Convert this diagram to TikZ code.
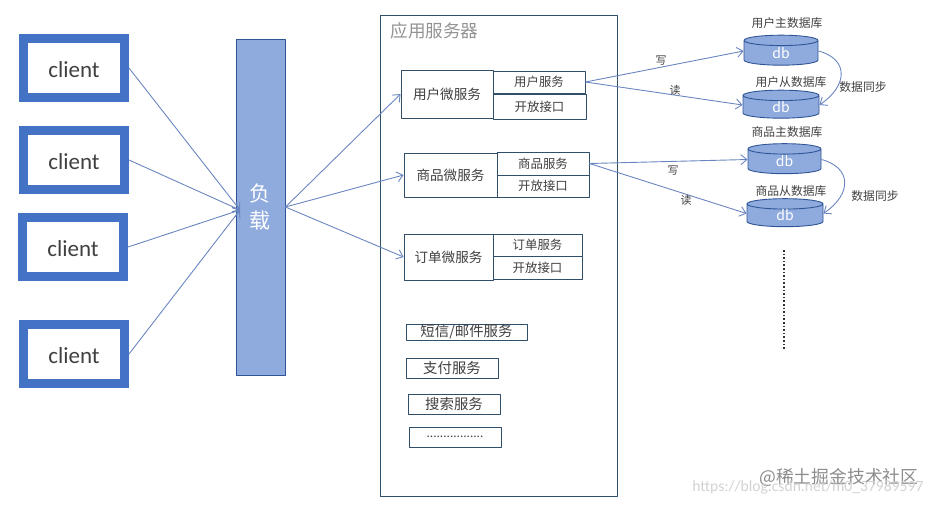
\documentclass[tikz,border=0pt]{standalone}
\usepackage{fontspec}
\setmainfont{Noto Sans CJK SC}
\newfontfamily\latinfont{Carlito}
\usetikzlibrary{arrows.meta,shapes.geometric}
\definecolor{darkblue}{HTML}{2F5597}
\definecolor{clientblue}{HTML}{4472C4}
\definecolor{lightblue}{HTML}{8FAADC}
\definecolor{linkblue}{HTML}{6A86C0}
\definecolor{boxedge}{HTML}{2F4F6B}
\definecolor{textgray}{HTML}{404040}
\tikzset{
	clientbox/.style={draw=clientblue,line width=9pt,line join=miter,fill=white,minimum width=101pt,minimum height=59pt,inner sep=0pt,text height=19pt,text=textgray,font=\latinfont\fontsize{23}{26}\selectfont},
	svcbox/.style={draw=boxedge,line width=0.9pt,fill=white,inner sep=0pt,text=textgray,font=\fontsize{13.6}{16}\selectfont},
	partbox/.style={svcbox,font=\fontsize{12.4}{15}\selectfont},
	extrabox/.style={svcbox,font=\fontsize{14.4}{17}\selectfont},
	dbnode/.style={cylinder,shape border rotate=90,shape aspect=0.6,draw=darkblue,line width=0.9pt,fill=lightblue,inner sep=0pt,minimum width=74pt,minimum height=30pt,text=white,font=\fontsize{14}{16}\selectfont},
	dblabel/.style={text=textgray,font=\fontsize{11.8}{14}\selectfont},
	tag/.style={text=textgray,font=\fontsize{11}{13}\selectfont},
	link/.style={->,draw=linkblue,line width=0.9pt}
}
\begin{document}
\begin{tikzpicture}[x=1pt,y=-1pt,>={Straight Barb[length=6pt,width=10pt]},line join=round]
	\useasboundingbox (0,0) rectangle (936,504);
	\node[clientbox] (client1) at (74,68) {client};
	\node[clientbox] (client2) at (74,160) {client};
	\node[clientbox] (client3) at (73,247) {client};
	\node[clientbox] (client4) at (74,354) {client};
	\node[draw=darkblue,line width=0.9pt,fill=lightblue,minimum width=49pt,minimum height=336pt,inner sep=0pt] (balancer) at (260.5,207) {};
	\node[text=white,align=center,font=\fontsize{21}{27}\selectfont] (balancerlabel) at (260,207) {负\\载};
	\coordinate (balancerin) at (240,210);
	\node[draw=boxedge,line width=0.9pt,minimum width=237pt,minimum height=481pt,inner sep=0pt] (appserver) at (498.5,255.5) {};
	\node[text=gray!85,anchor=west,font=\fontsize{17.6}{20}\selectfont] (applabel) at (387,31) {应用服务器};
	\node[svcbox,minimum width=92pt,minimum height=48pt] (usersvc) at (447,94) {用户微服务};
	\node[partbox,minimum width=92pt,minimum height=22pt] (userpart) at (539,82) {用户服务};
	\node[partbox,minimum width=93pt,minimum height=25pt] (useropen) at (539.5,106.5) {开放接口};
	\node[svcbox,minimum width=93pt,minimum height=44pt] (goodssvc) at (450.5,175) {商品微服务};
	\node[partbox,minimum width=92pt,minimum height=23pt] (goodspart) at (543,163.5) {商品服务};
	\node[partbox,minimum width=92pt,minimum height=22pt] (goodsopen) at (543,186) {开放接口};
	\node[svcbox,minimum width=89pt,minimum height=46pt] (ordersvc) at (448.5,257) {订单微服务};
	\node[partbox,minimum width=89pt,minimum height=22pt] (orderpart) at (537.5,245) {订单服务};
	\node[partbox,minimum width=89pt,minimum height=23pt] (orderopen) at (537.5,267.5) {开放接口};
	\node[extrabox,minimum width=121pt,minimum height=16pt] (smsbox) at (466.5,332) {短信/邮件服务};
	\node[extrabox,minimum width=92pt,minimum height=20pt] (paybox) at (452,368) {支付服务};
	\node[extrabox,minimum width=92pt,minimum height=20pt] (searchbox) at (454,404) {搜索服务};
	\node[extrabox,minimum width=92pt,minimum height=20pt] (morebox) at (455,437) {\raisebox{-2pt}{\fontsize{12}{14}\selectfont .................}};
	\node[dbnode] (userdb1) at (781,53) {db};
	\node[dbnode,minimum width=76pt,minimum height=28pt] (userdb2) at (781,107) {db};
	\node[dbnode,minimum width=73pt] (goodsdb1) at (784.5,161.5) {db};
	\node[dbnode,minimum width=76pt,minimum height=28pt] (goodsdb2) at (785,215.5) {db};
	\node[dblabel] (userdb1label) at (787,23) {用户主数据库};
	\node[dblabel] (userdb2label) at (791,82) {用户从数据库};
	\node[dblabel] (goodsdb1label) at (787,132) {商品主数据库};
	\node[dblabel] (goodsdb2label) at (791,191) {商品从数据库};
	\foreach \i in {1,2,3,4}
		\draw[link] (client\i.east) -- (balancerin);
	\draw[link] (balancer.east) -- (usersvc.west);
	\draw[link] (balancer.east) -- (goodssvc.west);
	\draw[link] (balancer.east) -- (ordersvc.west);
	\draw[link] (userpart.east) -- ([yshift=2pt]userdb1.west);
	\draw[link] (userpart.east) -- ([yshift=2pt]userdb2.west);
	\draw[link] (goodspart.east) -- ([yshift=2pt]goodsdb1.west);
	\draw[link] (goodspart.east) -- ([yshift=2pt]goodsdb2.west);
	\draw[link] ([yshift=2pt]userdb1.east) .. controls +(30,8) and +(29,-20) .. ([yshift=2pt]userdb2.east);
	\draw[link] ([yshift=2pt]goodsdb1.east) .. controls +(30,8) and +(29,-20) .. ([yshift=2pt]goodsdb2.east);
	\node[tag] (write1) at (661,61) {写};
	\node[tag] (read1) at (675,90) {读};
	\node[tag] (write2) at (673,171) {写};
	\node[tag] (read2) at (686,200) {读};
	\node[dblabel] (sync1) at (863,87) {数据同步};
	\node[dblabel] (sync2) at (875,196) {数据同步};
	\coordinate (dotstop) at (784,250);
	\coordinate (dotsend) at (784,350);
	\draw[line width=1.6pt,dotted,black!80] (dotstop) -- (dotsend);
	\node[text=gray!90,anchor=east,font=\fontsize{17.8}{20}\selectfont] (mark) at (922,477) {@稀土掘金技术社区};
	\node[text=gray!35,anchor=east,font=\latinfont\fontsize{15.6}{18}\selectfont] (markurl) at (927,487) {https://blog.csdn.net/m0\_37989597};
\end{tikzpicture}
\end{document}
